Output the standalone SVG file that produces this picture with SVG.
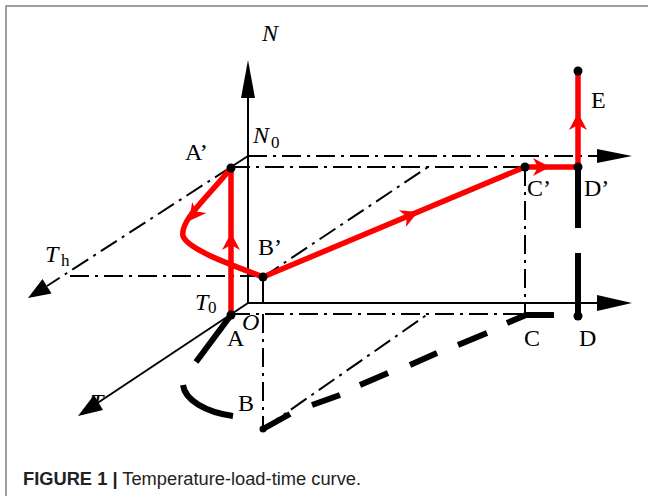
<svg xmlns="http://www.w3.org/2000/svg" width="648" height="496" viewBox="0 0 648 496">
<style>
.ax{stroke:#000;stroke-width:2;fill:none}
.dd{stroke:#000;stroke-width:2;fill:none;stroke-dasharray:19 6 3 6}
.red{stroke:#f00;stroke-width:5.5;fill:none;stroke-linejoin:round}
.blk{stroke:#000;stroke-width:6;fill:none}
.lbl{font-family:"Liberation Serif","Times New Roman",serif;font-size:24px;fill:#000}
.it{font-style:italic}
.sub{font-size:17px}
.dot{fill:#000}
.cap{font-family:"Liberation Sans",Arial,sans-serif;font-size:18.3px;fill:#222}
</style>
<defs>
<path id="rah" d="M0,0 L-17,-9 L-12,0 L-17,9 Z" fill="#f00"/>
</defs>
<rect width="648" height="496" fill="#fff"/>
<rect x="6" y="6" width="700" height="600" fill="none" stroke="#808080" stroke-width="1.5"/>

<g id="axes">
  <text class="lbl it" x="90" y="410">T</text>
  <line class="ax" x1="248" y1="303" x2="248" y2="95"/>
  <polygon points="248,60 241,98 255,98"/>
  <line class="ax" x1="248" y1="303" x2="600" y2="303"/>
  <polygon points="632,303 597,295 597,311"/>
  <line class="ax" x1="248" y1="303" x2="96" y2="404"/>
  <polygon points="78,416 103,410 94,395"/>
  <line class="ax" x1="248" y1="156" x2="231" y2="167"/>
  <line class="dd" x1="231" y1="167" x2="47" y2="286"/>
  <polygon points="28,298 51.5,293.5 42.5,279"/>
  <line class="dd" x1="248" y1="156" x2="600" y2="156"/>
  <polygon points="632,156 597,149 597,163"/>
  <text class="lbl it" x="262" y="41">N</text>
  <text class="lbl it" x="253" y="143">N</text>
  <text class="lbl sub" x="271" y="148">0</text>
  <text class="lbl it" x="45" y="262">T</text>
  <text class="lbl sub" x="61" y="266">h</text>
  <text class="lbl it" x="195" y="310">T</text>
  <text class="lbl sub" x="208" y="313">0</text>
  <text class="lbl it" x="242" y="330">O</text>
</g>

<g id="connectors">
  <line class="dd" x1="231" y1="167" x2="525" y2="167"/>
  <line class="dd" x1="70" y1="276" x2="263" y2="276"/>
  <line class="dd" x1="263" y1="277" x2="428" y2="167"/>
  <line class="dd" x1="525" y1="167" x2="525" y2="315"/>
  <line class="dd" x1="231" y1="314" x2="525" y2="314"/>
  <line class="dd" x1="263" y1="429" x2="428" y2="314"/>
  <line class="dd" x1="263" y1="314" x2="263" y2="429"/>
  <line class="ax" x1="263" y1="277" x2="263" y2="303"/>

  <path class="red" d="M231,315 L231,168"/>
  <path class="red" d="M231,168 C207,198 180,220 183,236 C188,250 235,266 263,277"/>
  <path class="red" d="M263,277 L525,167 L578,167 L578,71"/>
  <use href="#rah" transform="translate(231,233) rotate(-90)"/>
  <use href="#rah" transform="translate(189,221) rotate(127.4)"/>
  <use href="#rah" transform="translate(418,212) rotate(-22.8)"/>
  <use href="#rah" transform="translate(550,167)"/>
  <use href="#rah" transform="translate(578,113) rotate(-90)"/>

  <path class="blk" d="M231,315 L196,362"/>
  <path class="blk" d="M183,385 C185,400 205,412 233,416"/>
  <path class="blk" d="M263,429 L290,414"/>
  <path class="blk" d="M312,405 L340,395"/>
  <path class="blk" d="M360,385 L388,373"/>
  <path class="blk" d="M410,365 L437,353"/>
  <path class="blk" d="M458,345 L487,333"/>
  <path class="blk" d="M507,323 L526,315 L554,315"/>
  <path class="blk" d="M578,167 L578,228"/>
  <path class="blk" d="M578,253 L578,316"/>
</g>

<g id="node-A1"><circle class="dot" cx="231" cy="168" r="4.5"/><text class="lbl" x="185" y="160">A’</text></g>
<g id="node-A"><circle class="dot" cx="231" cy="315" r="4.5"/><text class="lbl" x="227" y="346">A</text></g>
<g id="node-B1"><circle class="dot" cx="263" cy="277" r="4.5"/><text class="lbl" x="258" y="255">B’</text></g>
<g id="node-B"><circle class="dot" cx="263" cy="429" r="3.5"/><text class="lbl" x="238" y="411">B</text></g>
<g id="node-C1"><circle class="dot" cx="525" cy="167" r="4.5"/><text class="lbl" x="527" y="196">C’</text></g>
<g id="node-C"><text class="lbl" x="524" y="346">C</text></g>
<g id="node-D1"><circle class="dot" cx="578" cy="167" r="4.5"/><text class="lbl" x="584" y="196">D’</text></g>
<g id="node-D"><circle class="dot" cx="578" cy="316" r="4.5"/><text class="lbl" x="579" y="346">D</text></g>
<g id="node-E"><circle class="dot" cx="578" cy="71" r="4.5"/><text class="lbl" x="591" y="108">E</text></g>

<text class="cap" x="23" y="485"><tspan font-weight="bold">FIGURE 1 |</tspan> Temperature-load-time curve.</text>
</svg>
